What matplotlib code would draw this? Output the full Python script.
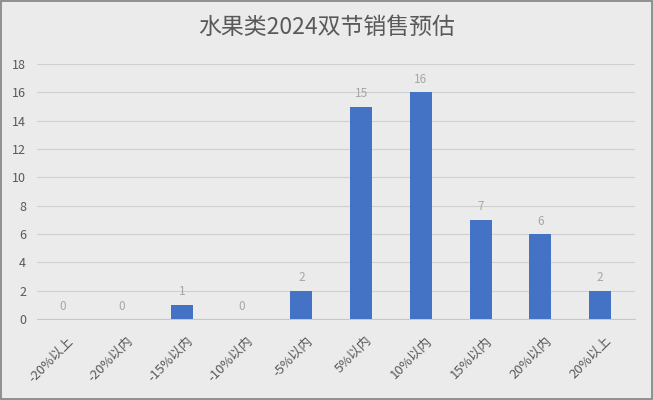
import matplotlib.pyplot as plt
from matplotlib.patches import Rectangle

plt.rcParams['font.family'] = ['Noto Sans CJK SC', 'DejaVu Sans']

categories = ['-20%以上', '-20%以内', '-15%以内', '-10%以内', '-5%以内',
              '5%以内', '10%以内', '15%以内', '20%以内', '20%以上']
values = [0, 0, 1, 0, 2, 15, 16, 7, 6, 2]
yticks = [0, 2, 4, 6, 8, 10, 12, 14, 16, 18]

bg = '#ebebeb'
shift = -0.08  # bars sit a touch left of the tick centres in the original

fig = plt.figure(figsize=(6.53, 4.0), dpi=100, facecolor=bg)
ax = fig.add_axes([0.057, 0.2025, 0.915, 0.6375], facecolor=bg)

x = list(range(len(categories)))
xb = [i + shift for i in x]
ax.bar(xb, values, width=0.37, color='#4472c4', zorder=3)
for xi, v in zip(xb, values):
    ax.text(xi, v + 0.45, str(v), ha='center', va='bottom',
            fontsize=8.5, color='#a6a6a6')

ax.set_xlim(-0.5, len(categories) - 0.5)
ax.set_ylim(0, 18)
ax.set_yticks(yticks)
ax.set_xticks(x)
ax.set_xticklabels(categories, rotation=45, ha='right', rotation_mode='anchor',
                   fontsize=9.5, color='#595959')
ax.tick_params(axis='y', labelsize=9, labelcolor='#595959', length=0, pad=8)
ax.tick_params(axis='x', length=0, pad=11)
ax.grid(axis='y', color='#d0d0d0', linewidth=0.8, zorder=0)
for s in ['top', 'right', 'left']:
    ax.spines[s].set_visible(False)
ax.spines['bottom'].set_color('#c8c8c8')

fig.text(0.5, 0.932, '水果类2024双节销售预估', ha='center', va='center',
         fontsize=16.5, color='#595959')
fig.patches.append(Rectangle((0.002, 0.003), 0.996, 0.994, transform=fig.transFigure,
                             fill=False, edgecolor='#7f7f7f', linewidth=1.2))

fig.savefig('out.png', dpi=100, facecolor=bg)
